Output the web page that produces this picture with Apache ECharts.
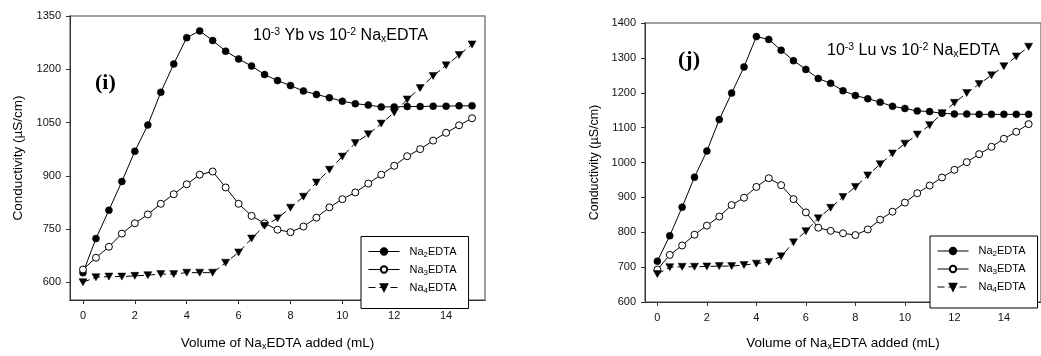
<!DOCTYPE html>
<html>
<head>
<meta charset="utf-8">
<title>Conductometric titration of Yb and Lu with NaxEDTA</title>
<script src="https://cdn.jsdelivr.net/npm/echarts@6/dist/echarts.min.js"></script>
<style>
  html, body { margin: 0; padding: 0; background: #fff; }
  #chart { width: 1041px; height: 356px; }
</style>
</head>
<body>
<div id="chart"></div>
<script>
// Titrant volume (mL) and measured conductivity (µS/cm)
const volume = [0, 0.5, 1, 1.5, 2, 2.5, 3, 3.5, 4, 4.5, 5, 5.5, 6, 6.5, 7, 7.5,
                8, 8.5, 9, 9.5, 10, 10.5, 11, 11.5, 12, 12.5, 13, 13.5, 14, 14.5, 15];

// (i) 10^-3 Yb vs 10^-2 NaxEDTA
const ybNa2 = [627, 723, 803, 884, 969, 1043, 1135, 1215, 1289, 1308, 1281, 1251, 1229, 1209, 1185, 1168,
               1154, 1139, 1129, 1120, 1110, 1103, 1099, 1094, 1094, 1095, 1095, 1096, 1096, 1097, 1097];
const ybNa3 = [636, 669, 700, 737, 766, 791, 821, 848, 876, 903, 912, 867, 821, 787, 766, 748,
               741, 757, 782, 811, 834, 853, 878, 903, 928, 955, 975, 999, 1021, 1042, 1062];
const ybNa4 = [600, 614, 616, 616, 618, 620, 623, 623, 627, 627, 627, 655, 684, 723, 759, 780,
               810, 841, 881, 917, 954, 992, 1017, 1047, 1078, 1115, 1147, 1181, 1211, 1240, 1270];

// (j) 10^-3 Lu vs 10^-2 NaxEDTA
const luNa2 = [717, 790, 872, 958, 1033, 1123, 1199, 1274, 1361, 1353, 1322, 1292, 1267, 1241, 1227, 1206,
               1192, 1183, 1173, 1161, 1155, 1148, 1146, 1141, 1139, 1139, 1138, 1138, 1138, 1138, 1138];
const luNa3 = [693, 735, 762, 793, 819, 845, 878, 899, 930, 955, 935, 895, 857, 813, 804, 797,
               792, 808, 836, 859, 885, 912, 934, 957, 979, 1001, 1024, 1045, 1068, 1088, 1110];
const luNa4 = [680, 700, 701, 701, 702, 703, 703, 706, 710, 715, 731, 771, 803, 840, 870, 901,
               930, 963, 995, 1026, 1054, 1080, 1107, 1141, 1171, 1199, 1225, 1250, 1276, 1304, 1332];

// Tick labels
const xTicks = [0, 2, 4, 6, 8, 10, 12, 14];
const yTicksYb = [600, 750, 900, 1050, 1200, 1350];
const seriesNames = ['Na2EDTA', 'Na3EDTA', 'Na4EDTA'];

const FONT = '"Liberation Sans", Arial, sans-serif';
const INK = '#000';
const AXIS = '#333';

function pairs(values) {
  return volume.map((v, i) => [v, values[i]]);
}

function styleFor(name) {
  if (name === 'Na2EDTA') {
    return { symbol: 'circle', symbolSize: 7,
             itemStyle: { color: INK, borderColor: INK, borderWidth: 0.5 },
             lineStyle: { color: INK, width: 1, type: 'solid' } };
  }
  if (name === 'Na3EDTA') {
    return { symbol: 'circle', symbolSize: 7,
             itemStyle: { color: '#fff', borderColor: INK, borderWidth: 1 },
             lineStyle: { color: INK, width: 1, type: 'solid' } };
  }
  return { symbol: 'triangle', symbolRotate: 180, symbolSize: [8, 7],
           itemStyle: { color: INK, borderColor: INK, borderWidth: 0.5 },
           lineStyle: { color: INK, width: 1, type: [7, 4] } };
}

function line(name, values, gi) {
  return Object.assign({
    type: 'line', name: name, xAxisIndex: gi, yAxisIndex: gi,
    data: pairs(values), showAllSymbol: true, animation: false,
    emphasis: { disabled: true }
  }, styleFor(name));
}

// "Na2EDTA" -> Na with a subscript 2
function subName(name) {
  return name.replace(/Na(\d|x)EDTA/, 'Na{sub|$1}EDTA');
}

const plain = v => String(v);

function xAxis(gi) {
  return {
    type: 'value', gridIndex: gi, min: -0.5, max: 15.5,
    name: 'Volume of Na{sub|x}EDTA added (mL)', nameLocation: 'middle',
    nameGap: gi === 0 ? 35 : 33,
    nameTextStyle: { fontFamily: FONT, fontSize: 13.5, color: INK, lineHeight: 16,
                     rich: { sub: { fontFamily: FONT, fontSize: 9, lineHeight: 8, verticalAlign: 'bottom', color: INK } } },
    axisLine: { show: true, onZero: false, lineStyle: { color: AXIS, width: 1 } },
    axisTick: { show: true, length: 4, customValues: xTicks, lineStyle: { color: AXIS } },
    axisLabel: { customValues: xTicks, formatter: plain, margin: 10, fontFamily: FONT, fontSize: 11, color: '#111' },
    splitLine: { show: false }
  };
}

function yAxis(gi) {
  const base = {
    type: 'value', gridIndex: gi,
    name: 'Conductivity (µS/cm)', nameLocation: 'middle',
    nameGap: gi === 0 ? 45 : 44,
    nameTextStyle: { fontFamily: FONT, fontSize: gi === 0 ? 13.5 : 12.5, color: INK },
    axisLine: { show: true, onZero: false, lineStyle: { color: AXIS, width: 1 } },
    axisTick: { show: true, length: 4, lineStyle: { color: AXIS } },
    axisLabel: { margin: 9, formatter: plain, fontFamily: FONT, fontSize: 11, color: '#111' },
    splitLine: { show: false }
  };
  if (gi === 0) {
    base.min = 550; base.max = 1350;
    base.axisTick.customValues = yTicksYb;
    base.axisLabel.customValues = yTicksYb;
  } else {
    base.min = 600; base.max = 1400; base.interval = 100;
  }
  return base;
}

function legend(left, top) {
  return {
    orient: 'vertical', left: left, top: top,
    padding: [8, 12, 14, 7], itemGap: 4, itemWidth: 31, itemHeight: 8,
    borderColor: INK, borderWidth: 1, backgroundColor: '#fff',
    selectedMode: false,
    data: seriesNames,
    formatter: subName,
    lineStyle: { width: 1 },
    textStyle: { fontFamily: FONT, fontSize: 11, color: INK, lineHeight: 14, padding: [0, 0, 0, 5],
                 rich: { sub: { fontFamily: FONT, fontSize: 8, lineHeight: 8, verticalAlign: 'bottom', color: INK } } }
  };
}

function title(text, left, top) {
  return {
    text: text, left: left, top: top, padding: 0,
    textStyle: { fontFamily: FONT, fontSize: 16, fontWeight: 'normal', color: INK, lineHeight: 18,
                 rich: {
                   sup: { fontFamily: FONT, fontSize: 10.5, lineHeight: 8, verticalAlign: 'top', color: INK },
                   sub: { fontFamily: FONT, fontSize: 10.5, lineHeight: 10, verticalAlign: 'bottom', color: INK }
                 } }
  };
}

const option = {
  animation: false,
  backgroundColor: '#fff',
  title: [
    title('10{sup|-3} Yb vs 10{sup|-2} Na{sub|x}EDTA', 253, 26.5),
    title('10{sup|-3} Lu vs 10{sup|-2} Na{sub|x}EDTA', 827, 42)
  ],
  grid: [
    { left: 70, top: 16, width: 415, height: 291, show: true, borderColor: '#808080', borderWidth: 1.5, backgroundColor: 'transparent' },
    { left: 645, top: 23, width: 409, height: 285, show: true, borderColor: '#808080', borderWidth: 1.5, backgroundColor: 'transparent' }
  ],
  xAxis: [xAxis(0), xAxis(1)],
  yAxis: [yAxis(0), yAxis(1)],
  legend: [legend(361, 236.5), legend(930, 236)],
  graphic: [
    { type: 'text', left: 95, top: 72, style: { text: '(i)', font: 'bold 22px "Liberation Serif", "Times New Roman", serif', fill: INK } },
    { type: 'text', left: 678, top: 49, style: { text: '(j)', font: 'bold 22px "Liberation Serif", "Times New Roman", serif', fill: INK } }
  ],
  series: [
    line('Na2EDTA', ybNa2, 0), line('Na3EDTA', ybNa3, 0), line('Na4EDTA', ybNa4, 0),
    line('Na2EDTA', luNa2, 1), line('Na3EDTA', luNa3, 1), line('Na4EDTA', luNa4, 1)
  ]
};

const chart = echarts.init(document.getElementById('chart'), null, { renderer: 'canvas' });
chart.setOption(option);
</script>
</body>
</html>
